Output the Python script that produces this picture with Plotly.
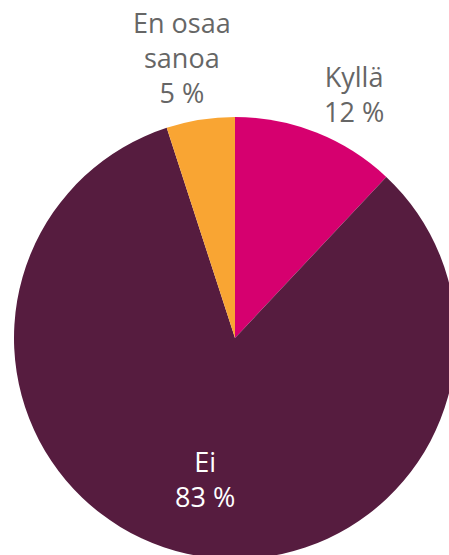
import plotly.graph_objects as go

labels = ["Kyllä", "Ei", "En osaa<br>sanoa"]
values = [12, 83, 5]
colors = ["#d6006f", "#561c3f", "#f9a533"]

# label placement (paper coords) and text colour per slice
label_pos = [(0.769, 1.052), (0.432, 0.181), (0.380, 1.135)]
label_col = ["#666666", "#ffffff", "#666666"]

fig = go.Figure()
fig.add_trace(go.Pie(
    labels=labels,
    values=values,
    sort=False,
    direction="clockwise",
    rotation=0,
    marker=dict(colors=colors, line=dict(width=0)),
    textinfo="none",
    hoverinfo="label+value",
    showlegend=False,
))

for lab, val, (x, y), c in zip(labels, values, label_pos, label_col):
    fig.add_annotation(
        x=x, y=y, xref="paper", yref="paper",
        text=f"{lab}<br>{val} %",
        showarrow=False, align="center",
        xanchor="center", yanchor="middle",
        font=dict(family="Open Sans", size=27, color=c),
    )

fig.update_layout(
    width=470, height=575,
    margin=dict(l=14, r=14, t=117, b=16),
    paper_bgcolor="white",
    plot_bgcolor="white",
)
fig.write_html(
    "out.html",
    config={"displayModeBar": False},
    post_script="document.body.style.margin='0';document.body.style.overflow='hidden';",
)
